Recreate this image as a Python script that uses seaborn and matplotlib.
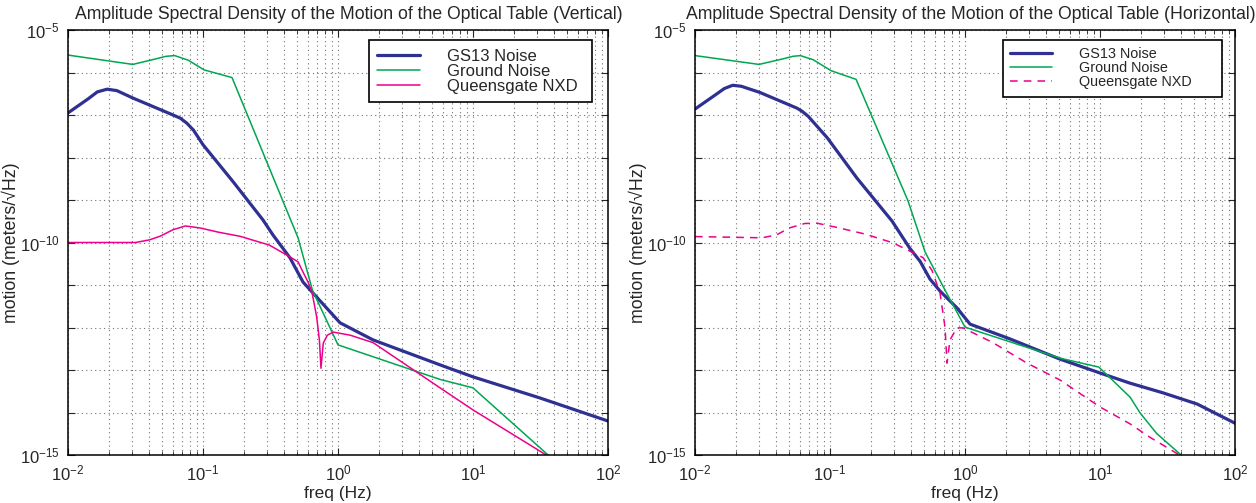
import numpy as np
import pandas as pd
import seaborn as sns
import matplotlib
matplotlib.use("Agg")
import matplotlib.pyplot as plt
from matplotlib.ticker import LogLocator, FuncFormatter, NullLocator, FixedLocator

# ---- data (freq in Hz, motion in m/sqrt(Hz)) ----

# Vertical
gs13_v_f = [0.01, 0.0141, 0.0165, 0.0195, 0.023, 0.0303, 0.06, 0.068, 0.076, 0.085, 0.1,
            0.167, 0.278, 0.33, 0.44, 0.551, 0.641, 1.035, 1.82, 5.7, 10, 31.3, 100]
gs13_v = [1.12e-7, 2.4e-7, 3.5e-7, 4.05e-7, 3.75e-7, 2.5e-7, 1.0e-7, 8.4e-8, 6.4e-8, 4.4e-8,
          2.0e-8, 2.7e-9, 3.4e-10, 1.5e-10, 4.4e-11, 1.17e-11, 6.9e-12, 1.29e-12, 5.1e-13,
          1.32e-13, 6.9e-14, 2.2e-14, 6.3e-15]

ground_v_f = [0.01, 0.0302, 0.045, 0.053, 0.0617, 0.0776, 0.102, 0.164, 0.506, 0.646, 1.0,
              5.7, 10, 36, 42]
ground_v = [2.57e-6, 1.55e-6, 2.1e-6, 2.4e-6, 2.5e-6, 1.95e-6, 1.15e-6, 7.6e-7, 1.29e-10,
            7.6e-12, 3.9e-13, 6.0e-14, 3.8e-14, 1.0e-15, 6.5e-16]

nxd_v_f = [0.01, 0.02, 0.0316, 0.04, 0.048, 0.06, 0.074, 0.095, 0.13, 0.188, 0.31, 0.44,
           0.506, 0.551, 0.6, 0.641, 0.695, 0.728, 0.748, 0.778, 0.834, 0.923, 1.23, 1.82,
           5.7, 10, 37, 42]
nxd_v = [1.0e-10, 1.0e-10, 1.0e-10, 1.15e-10, 1.4e-10, 2.0e-10, 2.45e-10, 2.2e-10, 1.75e-10,
         1.4e-10, 8.7e-11, 4.6e-11, 3.5e-11, 2.0e-11, 1.17e-11, 6.9e-12, 1.78e-12, 5.1e-13,
         1.1e-13, 4.3e-13, 6.6e-13, 7.8e-13, 6.6e-13, 4.4e-13, 3.8e-14, 1.15e-14, 8.9e-16,
         5.5e-16]

# Horizontal
gs13_h_f = [0.01, 0.0141, 0.0165, 0.019, 0.022, 0.0302, 0.0569, 0.062, 0.069, 0.0955, 0.158,
            0.288, 0.389, 0.465, 0.55, 0.653, 0.871, 1.09, 2.15, 5.06, 10, 16.7, 29.3, 52.5, 100]
gs13_h = [1.38e-7, 2.95e-7, 4.2e-7, 5.0e-7, 4.75e-7, 3.4e-7, 1.45e-7, 1.23e-7, 9.3e-8, 2.9e-8,
          3.3e-9, 3.2e-10, 7.4e-11, 3.6e-11, 1.38e-11, 7.2e-12, 2.9e-12, 1.2e-12, 5.4e-13,
          1.8e-13, 8.5e-14, 4.9e-14, 2.9e-14, 1.58e-14, 5.6e-15]

ground_h_f = [0.01, 0.0298, 0.045, 0.053, 0.0603, 0.075, 0.102, 0.156, 0.378, 0.506, 0.711,
              1.0, 5.06, 9.8, 11.9, 16.7, 19.8, 26.3, 39.2, 45]
ground_h = [2.5e-6, 1.55e-6, 2.1e-6, 2.4e-6, 2.5e-6, 2.0e-6, 1.1e-6, 6.9e-7, 9.6e-10, 6.0e-11,
            7.6e-12, 1.02e-12, 1.9e-13, 1.17e-13, 6.5e-14, 2.3e-14, 9.8e-15, 3.2e-15, 1.05e-15,
            6.5e-16]

nxd_h_f = [0.01, 0.0313, 0.04, 0.05, 0.065, 0.08, 0.11, 0.182, 0.293, 0.489, 0.57, 0.653,
           0.711, 0.736, 0.774, 0.871, 0.966, 1.61, 2.88, 5.06, 10, 16.7, 23.5, 37.8, 46]
nxd_h = [1.38e-10, 1.29e-10, 1.5e-10, 2.2e-10, 2.8e-10, 2.85e-10, 2.3e-10, 1.58e-10, 9.8e-11,
         4.4e-11, 2.2e-11, 6.5e-12, 1.02e-12, 1.45e-13, 5.1e-13, 9.8e-13, 9.8e-13, 4.4e-13,
         1.45e-13, 5.8e-14, 1.35e-14, 5.4e-15, 2.6e-15, 1.05e-15, 6.9e-16]

series_names = ["GS13 Noise", "Ground Noise", "Queensgate NXD"]
titles = ["Amplitude Spectral Density of the Motion of the Optical Table (Vertical)",
          "Amplitude Spectral Density of the Motion of the Optical Table (Horizontal)"]

BLUE = "#2E3192"
GREEN = "#00A651"
PINK = "#EC008C"

sns.set_style("ticks")
plt.rcParams["font.family"] = ["Liberation Sans", "DejaVu Sans"]

fig = plt.figure(figsize=(12.56, 5.03), dpi=100)
ax_v = fig.add_axes([68 / 1256, 48 / 503, 540 / 1256, 425 / 503])
ax_h = fig.add_axes([695 / 1256, 48 / 503, 540 / 1256, 425 / 503])


def ylabel_fmt(v, pos):
    e = int(round(np.log10(v)))
    if e % 5 == 0:
        return r"$\mathdefault{10^{%d}}$" % e
    return ""


def draw(ax, data, dashed_nxd, title, title_x, leg_size, leg_box, handlelen, textpad):
    styles = [(BLUE, 2.3, "-"), (GREEN, 1.1, "-"), (PINK, 1.1, (0, (5, 4)) if dashed_nxd else "-")]
    for (f, m), name, (c, lw, ls) in zip(data, series_names, styles):
        df = pd.DataFrame({"freq": f, "motion": m})
        sns.lineplot(data=df, x="freq", y="motion", ax=ax, color=c, linewidth=lw,
                     linestyle=ls, label=name, sort=False, estimator=None)
    ax.set_xscale("log")
    ax.set_yscale("log")
    ax.set_xlim(1e-2, 1e2)
    ax.set_ylim(1e-15, 1e-5)
    ax.yaxis.set_major_locator(FixedLocator([10.0 ** e for e in range(-15, -4)]))
    ax.yaxis.set_major_formatter(FuncFormatter(ylabel_fmt))
    ax.yaxis.set_minor_locator(NullLocator())
    ax.xaxis.set_major_locator(LogLocator(base=10, numticks=10))
    ax.xaxis.set_minor_locator(LogLocator(base=10, subs=np.arange(2, 10), numticks=20))
    ax.grid(True, which="major", color="0.45", linestyle=(0, (1, 3)), linewidth=0.8)
    ax.grid(True, which="minor", axis="x", color="0.45", linestyle=(0, (1, 3)), linewidth=0.8)
    ax.tick_params(which="both", direction="in", top=True, right=True, labelsize=12)
    ax.tick_params(which="major", length=5, pad=6)
    ax.tick_params(which="minor", length=3)
    for s in ax.spines.values():
        s.set_color("black")
        s.set_linewidth(1.1)
    ax.set_xlabel("freq (Hz)", fontsize=12.5, labelpad=2)
    ax.set_ylabel("motion (meters/\u221aHz)", fontsize=12.8, labelpad=0)
    ax.set_title(title, fontsize=12.7, pad=8, x=title_x)
    leg = ax.legend(loc="upper right", bbox_to_anchor=leg_box, mode="expand",
                    fontsize=leg_size, frameon=True, fancybox=False, framealpha=1,
                    edgecolor="black", handlelength=handlelen, handletextpad=textpad,
                    labelspacing=0.0, borderpad=0.5, borderaxespad=0)
    leg.get_frame().set_linewidth(1.2)


draw(ax_v, [(gs13_v_f, gs13_v), (ground_v_f, ground_v), (nxd_v_f, nxd_v)], False,
     titles[0], 0.52, 12, (0.557, 0.5, 0.413, 0.476), 2.6, 1.6)
draw(ax_h, [(gs13_h_f, gs13_h), (ground_h_f, ground_h), (nxd_h_f, nxd_h)], True,
     titles[1], 0.51, 10.4, (0.570, 0.5, 0.406, 0.476), 2.9, 1.9)

fig.savefig("out.png", dpi=100)
